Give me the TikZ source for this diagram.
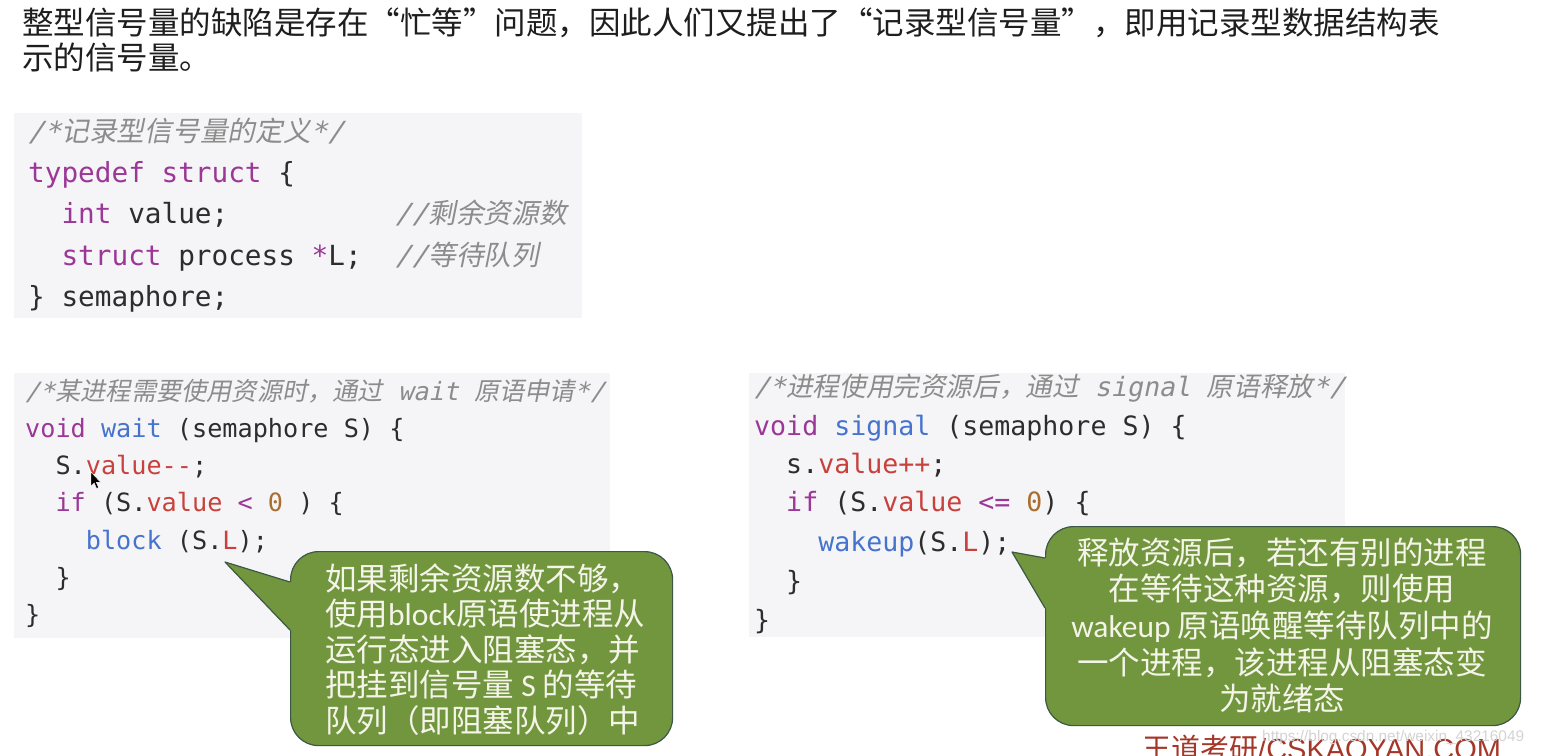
\documentclass[tikz,border=0pt]{standalone}
\usepackage{fontspec}
\usetikzlibrary{calc}
\setmainfont{Noto Sans CJK SC}
\newfontfamily\zhsans{Noto Sans CJK SC}
\newfontfamily\zhit{Noto Sans CJK SC}[FakeSlant=0.2]
\newfontfamily\codefont{DejaVu Sans Mono}
\newfontfamily\codeit{DejaVu Sans Mono}[FakeSlant=0.2]
\newfontfamily\latsans{Carlito}
\newfontfamily\arialf{Liberation Sans}
\definecolor{kwc}{RGB}{155,55,150}
\definecolor{fnc}{RGB}{70,115,205}
\definecolor{vrc}{RGB}{200,65,60}
\definecolor{nmc}{RGB}{170,110,45}
\definecolor{txc}{RGB}{45,45,45}
\definecolor{cmc}{RGB}{140,140,140}
\definecolor{codebgc}{RGB}{245,245,247}
\definecolor{callfill}{RGB}{114,150,62}
\definecolor{callline}{RGB}{60,88,68}
\definecolor{calltext}{RGB}{244,244,232}
\definecolor{footc}{RGB}{165,55,40}
\definecolor{wmc}{RGB}{212,212,212}
\newcommand\ckw[1]{\textcolor{kwc}{#1}}
\newcommand\cfn[1]{\textcolor{fnc}{#1}}
\newcommand\cvr[1]{\textcolor{vrc}{#1}}
\newcommand\cnm[1]{\textcolor{nmc}{#1}}
\newcommand\ind[1]{\hphantom{#1}}
\frenchspacing
\tikzset{
  codebg/.style={fill=codebgc, draw=none, inner sep=0pt, anchor=north west},
  codeline/.style={anchor=base west, inner sep=0pt, text=txc},
  cbA/.style={codeline, font=\codefont\fontsize{27.7}{30}\selectfont},
  cbB/.style={codeline, font=\codefont\fontsize{25.2}{28}\selectfont},
  cbC/.style={codeline, font=\codefont\fontsize{26.6}{29}\selectfont},
  cmt/.style={text=cmc},
  callbox/.style={fill=callfill, draw=callline, line width=1.2pt, rounded corners=28pt, inner sep=0pt},
  calltail/.style={fill=callfill, draw=none},
  tailedge/.style={draw=callline, line width=1.2pt, line join=round},
  callA/.style={anchor=base west, inner sep=0pt, text=calltext, font=\zhsans\fontsize{31.5}{34}\selectfont},
  callB/.style={anchor=base, inner sep=0pt, text=calltext, font=\zhsans\fontsize{31.5}{34}\selectfont},
  head/.style={anchor=base west, inner sep=0pt, text={rgb,255:red,30;green,30;blue,30}, font=\zhsans\fontsize{31.5}{36}\selectfont},
}
\begin{document}
\begin{tikzpicture}[x=1pt,y=-1pt]
\clip (0,0) rectangle (1541,755);
\fill[white] (0,0) rectangle (1541,755);
\useasboundingbox (0,0) rectangle (1541,755);

% heading
\node[head] (h1) at (22,34) {整型信号量的缺陷是存在“忙等”问题，因此人们又提出了“记录型信号量”，即用记录型数据结构表};
\node[head] (h2) at (22,69) {示的信号量。};

% code backgrounds
\node[codebg, minimum width=568pt, minimum height=205pt] (bgA) at (14,113) {};
\node[codebg, minimum width=596pt, minimum height=265pt] (bgB) at (14,373) {};
\node[codebg, minimum width=596pt, minimum height=264pt] (bgC) at (749,373) {};

% code A
\node[cbA, cmt] (a1) at (28,141) {{\codeit /*}{\zhit 记录型信号量的定义}{\codeit */}};
\node[cbA] (a2) at (28,182) {\ckw{typedef} \ckw{struct} \{};
\node[cbA] (a3) at (28,223) {\ind{xx}\ckw{int} value;\ind{xxxxxxxxxx}\textcolor{cmc}{{\codeit //}{\zhit 剩余资源数}}};
\node[cbA] (a4) at (28,265) {\ind{xx}\ckw{struct} process \ckw{*}L;\ind{xx}\textcolor{cmc}{{\codeit //}{\zhit 等待队列}}};
\node[cbA] (a5) at (28,306) {\} semaphore;};

% code B
\node[cbB, cmt] (b1) at (25,400) {{\codeit /*}{\zhit 某进程需要使用资源时，通过}{\codeit\ wait\ }{\zhit 原语申请}{\codeit */}};
\node[cbB] (b2) at (25,437) {\ckw{void} \cfn{wait} (semaphore S) \{};
\node[cbB] (b3) at (25,474) {\ind{xx}S.\cvr{value{-}{-}};};
\node[cbB] (b4) at (25,511) {\ind{xx}\ckw{if} (S.\cvr{value} \ckw{<} \cnm{0} ) \{};
\node[cbB] (b5) at (25,549) {\ind{xxxx}\cfn{block} (S.\cvr{L});};
\node[cbB] (b6) at (25,586) {\ind{xx}\}};
\node[cbB] (b7) at (25,623) {\}};

% code C
\node[cbC, cmt] (c1) at (754,396) {{\codeit /*}{\zhit 进程使用完资源后，通过}{\codeit\ signal\ }{\zhit 原语释放}{\codeit */}};
\node[cbC] (c2) at (754,435) {\ckw{void} \cfn{signal} (semaphore S) \{};
\node[cbC] (c3) at (754,473) {\ind{xx}s.\cvr{value++};};
\node[cbC] (c4) at (754,511) {\ind{xx}\ckw{if} (S.\cvr{value} \ckw{<=} \cnm{0}) \{};
\node[cbC] (c5) at (754,551) {\ind{xxxx}\cfn{wakeup}(S.\cvr{L});};
\node[cbC] (c6) at (754,590) {\ind{xx}\}};
\node[cbC] (c7) at (754,629) {\}};

% mouse cursor
\fill[black, draw=white, line width=0.4pt] (91,472) -- (91,486) -- (94.2,483) -- (96.6,488.5) -- (98.6,487.6) -- (96.2,482.2) -- (100.5,482.2) -- cycle;

% callout 1
\node[callbox, anchor=north west, minimum width=382pt, minimum height=194pt] (k1) at (290,551) {};
\coordinate (k1tip) at (225,562);
\coordinate (k1u) at ($(k1.north west)+(0,31)$);
\coordinate (k1l) at ($(k1.north west)+(0,79)$);
\fill[calltail] (k1tip) -- (k1u) -- ($(k1u)+(4,0)$) -- ($(k1l)+(4,0)$) -- (k1l) -- cycle;
\draw[tailedge] (k1u) -- (k1tip) -- (k1l);
\node[callA] (k1t1) at (325,590) {如果剩余资源数不够，};
\node[callA] (k1t2) at (325,625.5) {使用{\latsans block}原语使进程从};
\node[callA] (k1t3) at (325,661) {运行态进入阻塞态，并};
\node[callA] (k1t4) at (325,696.5) {把挂到信号量 {\latsans S} 的等待};
\node[callA] (k1t5) at (325,732) {队列（即阻塞队列）中};

% callout 2
\node[callbox, anchor=north west, minimum width=475pt, minimum height=199pt] (k2) at (1045,526) {};
\coordinate (k2tip) at (1012,552);
\coordinate (k2u) at ($(k2.north west)+(0,32)$);
\coordinate (k2l) at ($(k2.north west)+(0,82)$);
\fill[calltail] (k2tip) -- (k2u) -- ($(k2u)+(4,0)$) -- ($(k2l)+(4,0)$) -- (k2l) -- cycle;
\draw[tailedge] (k2u) -- (k2tip) -- (k2l);
\node[callB] (k2t1) at (1282,564) {释放资源后，若还有别的进程};
\node[callB] (k2t2) at (1282,600) {在等待这种资源，则使用};
\node[callB] (k2t3) at (1282,637) {{\latsans wakeup} 原语唤醒等待队列中的};
\node[callB] (k2t4) at (1282,674) {一个进程，该进程从阻塞态变};
\node[callB] (k2t5) at (1282,710) {为就绪态};

% footer and watermark
\node[anchor=base west, inner sep=0pt, text=footc, font=\fontsize{29}{32}\selectfont] (foot) at (1142,759) {{\zhsans 王道考研}{\arialf /CSKAOYAN.COM}};
\node[anchor=base west, inner sep=0pt, text=wmc, font=\arialf\fontsize{15.4}{17}\selectfont] (wm) at (1262,741) {https://blog.csdn.net/weixin\_43216049};
\end{tikzpicture}
\end{document}
